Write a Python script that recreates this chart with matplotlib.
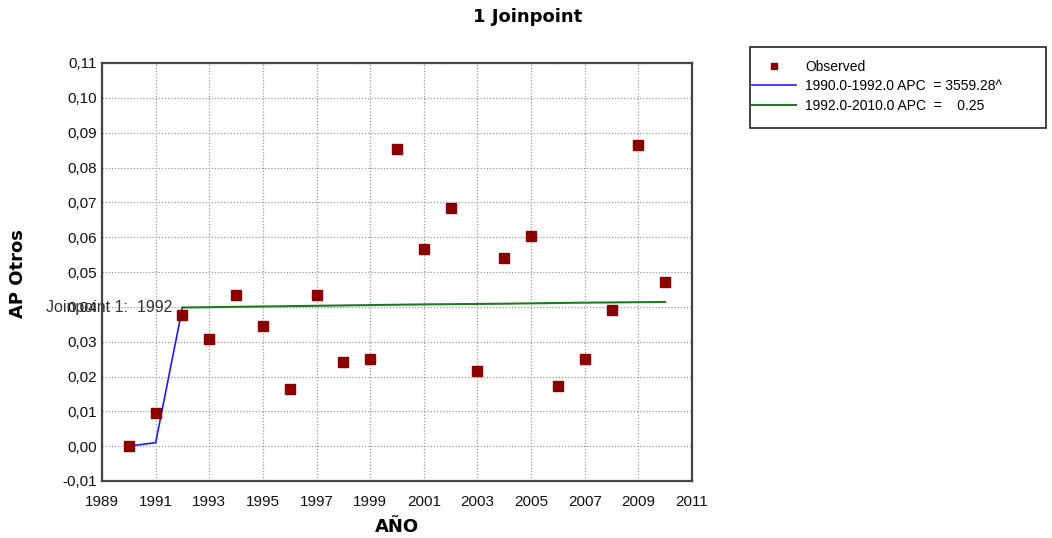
import matplotlib
matplotlib.use("Agg")
import matplotlib.pyplot as plt
from matplotlib.ticker import FuncFormatter, FixedLocator, MultipleLocator
from matplotlib.patches import Rectangle

plt.rcParams['font.family'] = ['Liberation Sans', 'DejaVu Sans']

years = [1990, 1991, 1992, 1993, 1994, 1995, 1996, 1997, 1998, 1999, 2000,
         2001, 2002, 2003, 2004, 2005, 2006, 2007, 2008, 2009, 2010]
observed = [0.0000, 0.0095, 0.0377, 0.0307, 0.0435, 0.0345, 0.0164, 0.0435,
            0.0241, 0.0249, 0.0852, 0.0566, 0.0685, 0.0215, 0.0540, 0.0603,
            0.0174, 0.0249, 0.0390, 0.0865, 0.0471]

seg1_years = [1990, 1991, 1992]
seg1_fit = [0.00003, 0.0010, 0.0398]
seg2_years = [1992, 1995, 1998, 2001, 2004, 2007, 2010]
seg2_fit = [0.0398, 0.0401, 0.0404, 0.0407, 0.0409, 0.0412, 0.0414]

x_ticks = [1989, 1991, 1993, 1995, 1997, 1999, 2001, 2003, 2005, 2007, 2009, 2011]
legend_labels = ["Observed",
                 "1990.0-1992.0 APC  = 3559.28^",
                 "1992.0-2010.0 APC  =    0.25"]
title = "1 Joinpoint"
xlabel = "AÑO"
ylabel = "AP Otros"
joinpoint_label = "Joinpoint 1:  1992"
joinpoint_year = 1992

W, H = 1052, 538
fig = plt.figure(figsize=(W / 100, H / 100), dpi=100)
ax = fig.add_axes([102 / W, 1 - 481 / H, 590 / W, 418 / H])

obs_h, = ax.plot(years, observed, linestyle='none', marker='s', markersize=6.5,
                 color='#8B0000', markeredgecolor='#8B0000', zorder=5)
l1, = ax.plot(seg1_years, seg1_fit, color='#1A1AFF', linewidth=1.2, zorder=4)
l2, = ax.plot(seg2_years, seg2_fit, color='#1E7B1E', linewidth=1.5, zorder=4)

ax.set_xlim(1989, 2011)
ax.set_ylim(-0.01, 0.11)
ax.xaxis.set_major_locator(FixedLocator(x_ticks))
ax.yaxis.set_major_locator(MultipleLocator(0.01))
ax.yaxis.set_major_formatter(FuncFormatter(
    lambda v, p: f"{v:.2f}".replace('.', ',').replace('-0,00', '0,00')))
ax.xaxis.set_major_formatter(FuncFormatter(lambda v, p: f"{int(round(v))}"))
ax.tick_params(axis='both', length=0, labelsize=11, colors='#111111')
ax.tick_params(axis='y', pad=3.5)
ax.tick_params(axis='x', pad=10)
ax.grid(True, linestyle=(0, (1, 1.5)), color='#999999', linewidth=0.9)
ax.set_axisbelow(True)
for s in ax.spines.values():
    s.set_color('#444444')
    s.set_linewidth(1.6)

ax.annotate(joinpoint_label, xy=(joinpoint_year, seg2_fit[0]), xytext=(-10, 0),
            textcoords='offset pixels', ha='right', va='center', fontsize=11.5,
            color='#333333', annotation_clip=False, zorder=6)

fig.text(528 / W, 1 - 17 / H, title, ha='center', va='center', fontsize=13,
         fontweight='bold', family='DejaVu Sans')
fig.text(397 / W, 1 - 527 / H, xlabel, ha='center', va='center', fontsize=13,
         fontweight='bold', family='DejaVu Sans')
fig.text(18 / W, 1 - 274 / H, ylabel, ha='center', va='center', fontsize=13,
         fontweight='bold', rotation=90, family='DejaVu Sans')

fig.patches.append(Rectangle((750 / W, 1 - 128 / H), 296 / W, 81 / H,
                             transform=fig.transFigure, facecolor='white',
                             edgecolor='#222222', linewidth=1.2, zorder=0))
leg = fig.legend([obs_h, l1, l2], legend_labels, loc='upper left',
                 bbox_to_anchor=(752 / W, 1 - 60 / H), frameon=False,
                 fontsize=10, handlelength=3.2, handletextpad=0.65,
                 borderpad=0, labelspacing=0.38, markerscale=0.75,
                 borderaxespad=0)

fig.savefig("out.png", dpi=100)
